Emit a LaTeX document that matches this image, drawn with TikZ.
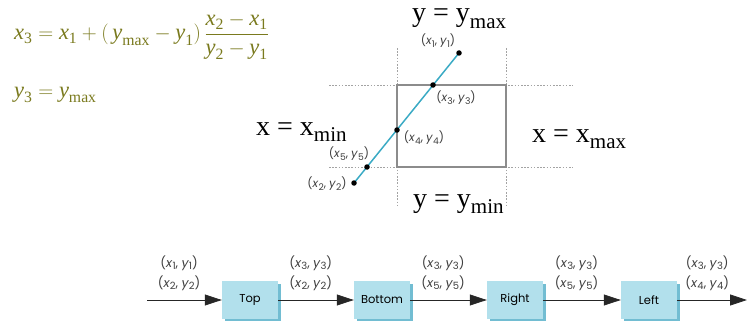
\documentclass[tikz,border=0pt]{standalone}
\usepackage{amsmath}
\usepackage{fontspec}
\setmainfont{Liberation Serif}
\newfontfamily\labelfont{Poppins}
\usepackage{xcolor}
\definecolor{eqolive}{HTML}{7A7A1E}
\definecolor{clipteal}{HTML}{3AAAC4}
\definecolor{boxblue}{HTML}{B2E0EC}
\definecolor{boxshade}{HTML}{72BDD2}
\definecolor{wingray}{HTML}{8C8C8C}
\usetikzlibrary{positioning, arrows.meta, shadows}

% variable with subscript, for the equations
\newcommand{\vv}[2]{\textit{#1}_{\textnormal{#2}}}
% small subscript for the point labels
\newcommand{\lowsub}[1]{\raisebox{-0.35ex}{\scalebox{0.8}{#1}}}
% point label, like (x1, y1)
\newcommand{\xypair}[2]{(\textit{x}\lowsub{#1}, \textit{y}\lowsub{#2})}
% boundary label, like x = x_min
\newcommand{\bound}[2]{#1 = #1\raisebox{-0.22em}{\fontsize{21}{21}\selectfont #2}}

\begin{document}
\begin{tikzpicture}[x=1pt, y=-1pt,
  eqtext/.style={font=\fontsize{22.5}{26}\selectfont, text=eqolive,
                 inner sep=0pt, anchor=base west},
  boundlabel/.style={font=\fontsize{28}{28}\selectfont, inner sep=0pt,
                     anchor=base west},
  ptlabel/.style={font=\labelfont\fontsize{11.5}{12}\selectfont,
                  text=black!75, inner sep=0pt},
  winline/.style={draw=wingray, line width=1.1pt},
  guide/.style={draw=wingray!80, line width=0.8pt, dash pattern=on 1.6pt off 1.6pt},
  segline/.style={draw=clipteal, line width=1.5pt},
  dot/.style={circle, fill=black, inner sep=0pt, minimum size=5.5pt},
  stagebox/.style={fill=boxblue, minimum width=56pt, minimum height=38pt,
                   font=\labelfont\fontsize{11.5}{12}\selectfont,
                   drop shadow={shadow xshift=2.5pt, shadow yshift=-2.5pt,
                                fill=boxshade, opacity=1}},
  flow/.style={-{Triangle[length=17pt, width=11pt]}, draw=black!85,
               line width=0.8pt},
  pairlabel/.style={font=\labelfont\fontsize{12.5}{20}\selectfont,
                    align=center, text=black!75, inner sep=0pt,
                    above=9pt, pos=0.43}
]
\useasboundingbox (0,0) rectangle (747,321);

% ---- equations ----
\node[eqtext] (eqx) at (14,40)
  {$\vv{x}{3} = \vv{x}{1} + (\,\vv{y}{max} - \vv{y}{1})\,
    \dfrac{\vv{x}{2} - \vv{x}{1}}{\vv{y}{2} - \vv{y}{1}}$};
\node[eqtext] (eqy) at (14,97) {$\vv{y}{3} = \vv{y}{max}$};

% ---- clipping window ----
\draw[guide] (329,85) -- (573,85);
\draw[guide] (329,167) -- (573,167);
\draw[guide] (397,48) -- (397,207);
\draw[guide] (506,48) -- (506,207);
\draw[winline] (397,85) rectangle (506,167);

\node[boundlabel] (ymax) at (412,22)  {\bound{y}{max}};
\node[boundlabel] (xmin) at (256,135) {\bound{x}{min}};
\node[boundlabel] (xmax) at (532,142) {\bound{x}{max}};
\node[boundlabel] (ymin) at (413,207) {\bound{y}{min}};

% ---- line segment and intersections ----
\coordinate (p1) at (459,53);
\coordinate (p2) at (354,183);
\coordinate (p3) at (433,85);
\coordinate (p4) at (397,130);
\coordinate (p5) at (367,167);
\draw[segline] (p2) -- (p1);
\foreach \p in {p1,p2,p3,p4,p5}
  \node[dot] at (\p) {};

\node[ptlabel] (l1) at (438,41)  {\xypair{1}{1}};
\node[ptlabel] (l3) at (456,98)  {\xypair{3}{3}};
\node[ptlabel] (l4) at (424,138) {\xypair{4}{4}};
\node[ptlabel] (l5) at (349,154) {\xypair{5}{5}};
\node[ptlabel] (l2) at (327,184) {\xypair{2}{2}};

% ---- clipping pipeline ----
\coordinate (in) at (147,300);
\node[stagebox] (top)    at (250,300) {Top};
\node[stagebox] (bottom) at (382,300) {Bottom};
\node[stagebox] (right)  at (515,300) {Right};
\node[stagebox] (left)   at (649,300) {Left};
\coordinate (out) at (747,300);

\draw[flow] (in) -- (top)
  node[pairlabel] {\xypair{1}{1}\\\xypair{2}{2}};
\draw[flow] (top) -- (bottom)
  node[pairlabel] {\xypair{3}{3}\\\xypair{2}{2}};
\draw[flow] (bottom) -- (right)
  node[pairlabel] {\xypair{3}{3}\\\xypair{5}{5}};
\draw[flow] (right) -- (left)
  node[pairlabel] {\xypair{3}{3}\\\xypair{5}{5}};
\draw[flow] (left) -- (out)
  node[pairlabel] {\xypair{3}{3}\\\xypair{4}{4}};

\end{tikzpicture}
\end{document}
